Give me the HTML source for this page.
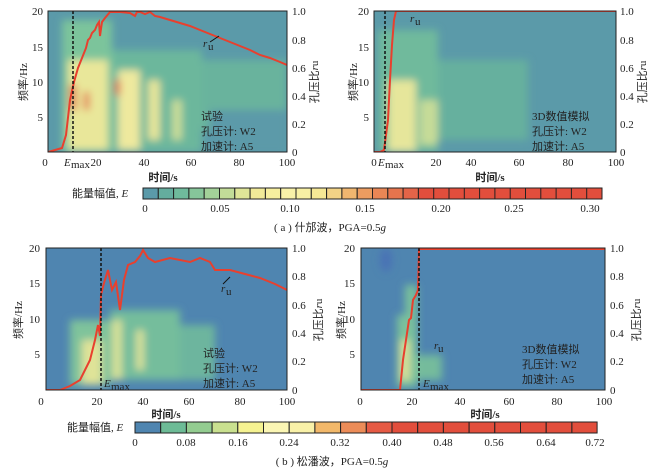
<!DOCTYPE html>
<html><head><meta charset="utf-8"><style>
body{margin:0;background:#fff}
svg{display:block}
text{font-family:"Liberation Serif","Noto Serif CJK SC",serif;font-size:11px;fill:#222}
.c{font-family:"Liberation Serif","Noto Sans CJK SC",sans-serif}
</style></head><body>
<svg width="664" height="473" viewBox="0 0 664 473">
<defs>
<filter id="b" x="-20%" y="-20%" width="140%" height="140%"><feGaussianBlur stdDeviation="4"/></filter>
<clipPath id="c1"><rect x="48" y="11" width="239" height="141"/></clipPath>
<clipPath id="c2"><rect x="374" y="11" width="242" height="141"/></clipPath>
<clipPath id="c3"><rect x="46" y="248" width="241" height="142"/></clipPath>
<clipPath id="c4"><rect x="361" y="248" width="244" height="142"/></clipPath>
</defs>

<!-- Panel 1 -->
<rect x="48" y="11" width="239" height="141" fill="#5b9aa9"/>
<g clip-path="url(#c1)"><g filter="url(#b)">
<rect x="62" y="20" width="50" height="132" fill="#7cc49b"/>
<rect x="112" y="50" width="90" height="102" fill="#6cb79c"/>
<rect x="202" y="60" width="85" height="70" fill="#69b39d"/>
<rect x="68" y="60" width="40" height="90" fill="#e9e79a"/>
<rect x="118" y="70" width="22" height="80" fill="#eee99e"/>
<rect x="148" y="80" width="12" height="60" fill="#e5e59a"/>
<rect x="172" y="100" width="10" height="40" fill="#c9dd98"/>
<rect x="70" y="85" width="6" height="25" fill="#e3573f"/>
<rect x="84" y="92" width="5" height="18" fill="#e3573f"/>
<rect x="115" y="80" width="5" height="15" fill="#e3573f"/>
<rect x="210" y="110" width="77" height="42" fill="#5b9aa9"/>
</g></g>
<polyline clip-path="url(#c1)" fill="none" stroke="#e8402e" stroke-width="2" points="48,152 55,150 62,148 66,135 70,100 74,82 78,68 82,58 86,48 88,40 90,38 92,33 95,30 97,25 99,22 100,36 102,22 105,18 110,12 120,12 130,13 135,16 137,12 140,12 145,14 150,12 155,16 160,17 170,20 180,23 190,26 200,30 210,34 220,38 230,42 240,46 250,50 260,55 270,58 280,62 287,65"/>
<line x1="73" y1="11" x2="73" y2="152" stroke="#111" stroke-width="1.5" stroke-dasharray="3,2"/>
<rect x="48" y="11" width="239" height="141" fill="none" stroke="#222"/>
<text x="203" y="47" font-style="italic">r</text><text x="208" y="50" font-size="8">u</text>
<line x1="210" y1="42" x2="219" y2="36" stroke="#111"/>
<text x="201" y="120" class="c">试验</text>
<text x="201" y="135" class="c">孔压计: W2</text>
<text x="201" y="150" class="c">加速计: A5</text>

<!-- Panel 2 -->
<rect x="374" y="11" width="242" height="141" fill="#5b9aa9"/>
<g clip-path="url(#c2)"><g filter="url(#b)">
<rect x="378" y="30" width="60" height="122" fill="#6fba9c"/>
<rect x="438" y="60" width="90" height="80" fill="#66b09e"/>
<rect x="388" y="80" width="28" height="72" fill="#e6e69b"/>
<rect x="420" y="100" width="18" height="45" fill="#c6dc98"/>
</g></g>
<polyline clip-path="url(#c2)" fill="none" stroke="#e8402e" stroke-width="2" points="374,152 380,152 384,150 388,120 390,80 392,45 394,20 396,11 616,11"/>
<line x1="385" y1="11" x2="385" y2="152" stroke="#111" stroke-width="1.5" stroke-dasharray="3,2"/>
<rect x="374" y="11" width="242" height="141" fill="none" stroke="#222"/>
<text x="410" y="22" font-style="italic">r</text><text x="415" y="25" font-size="8">u</text>
<text x="532" y="120" class="c">3D数值模拟</text>
<text x="532" y="135" class="c">孔压计: W2</text>
<text x="532" y="150" class="c">加速计: A5</text>

<g text-anchor="end">
<text x="43" y="15">20</text><text x="43" y="51">15</text><text x="43" y="86">10</text><text x="43" y="121">5</text>
<text x="369" y="15">20</text><text x="369" y="51">15</text><text x="369" y="86">10</text><text x="369" y="121">5</text>
</g>
<g>
<text x="292" y="15">1.0</text><text x="292" y="44">0.8</text><text x="292" y="72">0.6</text><text x="292" y="100">0.4</text><text x="292" y="128">0.2</text><text x="292" y="156">0</text>
<text x="620" y="15">1.0</text><text x="620" y="44">0.8</text><text x="620" y="72">0.6</text><text x="620" y="100">0.4</text><text x="620" y="128">0.2</text><text x="620" y="156">0</text>
</g>
<g text-anchor="middle">
<text x="45" y="166">0</text><text x="96" y="166">20</text><text x="144" y="166">40</text><text x="191" y="166">60</text><text x="239" y="166">80</text><text x="287" y="166">100</text>
<text x="374" y="166">0</text><text x="436" y="166">20</text><text x="471" y="166">40</text><text x="519" y="166">60</text><text x="568" y="166">80</text><text x="616" y="166">100</text>
<text x="163" y="181" class="c" font-weight="bold">时间/s</text>
<text x="490" y="181" class="c" font-weight="bold">时间/s</text>
</g>
<text x="64" y="166" font-style="italic">E</text><text x="71" y="168" font-size="8">max</text>
<text x="378" y="166" font-style="italic">E</text><text x="385" y="168" font-size="8">max</text>
<text transform="translate(27,82) rotate(-90)" text-anchor="middle" class="c">频率/Hz</text>
<text transform="translate(357,82) rotate(-90)" text-anchor="middle" class="c">频率/Hz</text>
<text transform="translate(318,82) rotate(-90)" text-anchor="middle" class="c">孔压比<tspan font-style="italic">r</tspan>u</text>
<text transform="translate(646,82) rotate(-90)" text-anchor="middle" class="c">孔压比<tspan font-style="italic">r</tspan>u</text>

<!-- colorbar a -->
<text x="72" y="197" class="c">能量幅值, <tspan font-style="italic">E</tspan></text>
<g stroke="#222" stroke-width="1">
<rect x="143" y="188" width="15.3" height="11" fill="#5b9aa9"/><rect x="158.3" y="188" width="15.3" height="11" fill="#64ad9e"/><rect x="173.6" y="188" width="15.3" height="11" fill="#6fba9c"/><rect x="188.9" y="188" width="15.3" height="11" fill="#86c59a"/><rect x="204.2" y="188" width="15.3" height="11" fill="#a3d199"/><rect x="219.5" y="188" width="15.3" height="11" fill="#c2dc98"/><rect x="234.8" y="188" width="15.3" height="11" fill="#dfe598"/><rect x="250.1" y="188" width="15.3" height="11" fill="#f1ea98"/><rect x="265.4" y="188" width="15.3" height="11" fill="#f7ef9f"/><rect x="280.7" y="188" width="15.3" height="11" fill="#f8f1a8"/><rect x="296" y="188" width="15.3" height="11" fill="#f8f0a4"/><rect x="311.3" y="188" width="15.3" height="11" fill="#f6e895"/><rect x="326.6" y="188" width="15.3" height="11" fill="#f3d386"/><rect x="341.9" y="188" width="15.3" height="11" fill="#f0b66f"/><rect x="357.2" y="188" width="15.3" height="11" fill="#ec9c60"/><rect x="372.5" y="188" width="15.3" height="11" fill="#e98655"/><rect x="387.8" y="188" width="15.3" height="11" fill="#e6744d"/><rect x="403.1" y="188" width="15.3" height="11" fill="#e46448"/>
</g>
<rect x="418.4" y="188" width="183.6" height="11" fill="#e24e3c" stroke="#222"/>
<g stroke="#222"><line x1="433.7" y1="188" x2="433.7" y2="199"/><line x1="449" y1="188" x2="449" y2="199"/><line x1="464.3" y1="188" x2="464.3" y2="199"/><line x1="479.6" y1="188" x2="479.6" y2="199"/><line x1="494.9" y1="188" x2="494.9" y2="199"/><line x1="510.2" y1="188" x2="510.2" y2="199"/><line x1="525.5" y1="188" x2="525.5" y2="199"/><line x1="540.8" y1="188" x2="540.8" y2="199"/><line x1="556.1" y1="188" x2="556.1" y2="199"/><line x1="571.4" y1="188" x2="571.4" y2="199"/><line x1="586.7" y1="188" x2="586.7" y2="199"/></g>
<g text-anchor="middle">
<text x="145" y="212">0</text><text x="220" y="212">0.05</text><text x="290" y="212">0.10</text><text x="365" y="212">0.15</text><text x="441" y="212">0.20</text><text x="514" y="212">0.25</text><text x="590" y="212">0.30</text>
<text x="330" y="231" class="c">( a ) 什邡波，PGA=0.5<tspan font-style="italic">g</tspan></text>
</g>

<!-- Panel 3 -->
<rect x="46" y="248" width="241" height="142" fill="#4f85b0"/>
<g clip-path="url(#c3)"><g filter="url(#b)">
<rect x="70" y="320" width="40" height="65" fill="#7fc39b"/>
<rect x="110" y="310" width="70" height="70" fill="#75bd9c"/>
<rect x="180" y="325" width="35" height="55" fill="#6db59e"/>
<rect x="82" y="340" width="20" height="45" fill="#dfe398"/>
<rect x="112" y="320" width="10" height="60" fill="#d6e198"/>
<rect x="136" y="330" width="8" height="40" fill="#d9e299"/>
</g></g>
<polyline clip-path="url(#c3)" fill="none" stroke="#e8402e" stroke-width="2" points="46,390 60,390 70,386 80,380 90,360 95,340 98,325 100,336 101,295 104,283 108,270 112,290 116,282 120,310 124,280 128,265 135,262 140,256 143,250 148,258 155,262 170,258 190,262 200,258 210,262 215,270 230,270 245,274 260,278 275,284 287,290"/>
<line x1="101" y1="248" x2="101" y2="390" stroke="#111" stroke-width="1.5" stroke-dasharray="3,2"/>
<rect x="46" y="248" width="241" height="142" fill="none" stroke="#222"/>
<text x="221" y="292" font-style="italic">r</text><text x="226" y="295" font-size="8">u</text>
<line x1="223" y1="284" x2="230" y2="277" stroke="#111"/>
<text x="104" y="387" font-style="italic">E</text><text x="111" y="390" font-size="8">max</text>
<text x="203" y="357" class="c">试验</text>
<text x="203" y="372" class="c">孔压计: W2</text>
<text x="203" y="387" class="c">加速计: A5</text>

<!-- Panel 4 -->
<rect x="361" y="248" width="244" height="142" fill="#4f85b0"/>
<g clip-path="url(#c4)"><g filter="url(#b)">
<ellipse cx="386" cy="260" rx="6" ry="12" fill="#4a72b5"/>
<rect x="397" y="315" width="20" height="72" fill="#7cc29b"/>
<rect x="405" y="285" width="12" height="40" fill="#79c09b"/>
<rect x="400" y="340" width="10" height="40" fill="#d8e198"/>
<rect x="417" y="355" width="25" height="25" fill="#74bb9c"/>
</g></g>
<polyline clip-path="url(#c4)" fill="none" stroke="#e8402e" stroke-width="2" points="361,390 400,390 403,360 406,340 409,320 411,318 413,300 416,295 418,290 419,249 605,249"/>
<line x1="419" y1="248" x2="419" y2="390" stroke="#111" stroke-width="1.5" stroke-dasharray="3,2"/>
<rect x="361" y="248" width="244" height="142" fill="none" stroke="#222"/>
<text x="434" y="349" font-style="italic">r</text><text x="438" y="352" font-size="8">u</text>
<text x="423" y="387" font-style="italic">E</text><text x="430" y="390" font-size="8">max</text>
<text x="522" y="353" class="c">3D数值模拟</text>
<text x="522" y="368" class="c">孔压计: W2</text>
<text x="522" y="383" class="c">加速计: A5</text>

<g text-anchor="end">
<text x="40" y="252">20</text><text x="40" y="287">15</text><text x="40" y="323">10</text><text x="40" y="358">5</text>
<text x="355" y="252">20</text><text x="355" y="287">15</text><text x="355" y="323">10</text><text x="355" y="358">5</text>
</g>
<g>
<text x="292" y="252">1.0</text><text x="292" y="280">0.8</text><text x="292" y="309">0.6</text><text x="292" y="337">0.4</text><text x="292" y="365">0.2</text><text x="292" y="394">0</text>
<text x="610" y="252">1.0</text><text x="610" y="280">0.8</text><text x="610" y="309">0.6</text><text x="610" y="337">0.4</text><text x="610" y="365">0.2</text><text x="610" y="394">0</text>
</g>
<g text-anchor="middle">
<text x="41" y="405">0</text><text x="97" y="405">20</text><text x="143" y="405">40</text><text x="189" y="405">60</text><text x="240" y="405">80</text><text x="287" y="405">100</text>
<text x="360" y="405">0</text><text x="412" y="405">20</text><text x="460" y="405">40</text><text x="509" y="405">60</text><text x="557" y="405">80</text><text x="604" y="405">100</text>
<text x="166" y="418" class="c" font-weight="bold">时间/s</text>
<text x="485" y="418" class="c" font-weight="bold">时间/s</text>
</g>
<text transform="translate(22,320) rotate(-90)" text-anchor="middle" class="c">频率/Hz</text>
<text transform="translate(345,320) rotate(-90)" text-anchor="middle" class="c">频率/Hz</text>
<text transform="translate(322,320) rotate(-90)" text-anchor="middle" class="c">孔压比<tspan font-style="italic">r</tspan>u</text>
<text transform="translate(640,320) rotate(-90)" text-anchor="middle" class="c">孔压比<tspan font-style="italic">r</tspan>u</text>

<!-- colorbar b -->
<text x="67" y="431" class="c">能量幅值, <tspan font-style="italic">E</tspan></text>
<g stroke="#222">
<rect x="135" y="422" width="25.7" height="11" fill="#4f85b0"/><rect x="160.7" y="422" width="25.7" height="11" fill="#6dbb96"/><rect x="186.4" y="422" width="25.7" height="11" fill="#93cc90"/><rect x="212.1" y="422" width="25.7" height="11" fill="#c9e08f"/><rect x="237.8" y="422" width="25.7" height="11" fill="#f5f291"/><rect x="263.5" y="422" width="25.7" height="11" fill="#fbf6b4"/><rect x="289.2" y="422" width="25.7" height="11" fill="#f9f1a8"/><rect x="314.9" y="422" width="25.7" height="11" fill="#f2b86a"/><rect x="340.6" y="422" width="25.7" height="11" fill="#ec8c58"/><rect x="366.3" y="422" width="25.7" height="11" fill="#e65a44"/><rect x="392" y="422" width="25.7" height="11" fill="#e24e3c"/><rect x="417.7" y="422" width="25.7" height="11" fill="#e24e3c"/><rect x="443.4" y="422" width="25.7" height="11" fill="#e24e3c"/><rect x="469.1" y="422" width="25.7" height="11" fill="#e24e3c"/><rect x="494.8" y="422" width="25.7" height="11" fill="#e24e3c"/><rect x="520.5" y="422" width="25.7" height="11" fill="#e24e3c"/><rect x="546.2" y="422" width="25.7" height="11" fill="#e24e3c"/><rect x="571.9" y="422" width="25.2" height="11" fill="#e24e3c"/>
</g>
<g text-anchor="middle">
<text x="135" y="446">0</text><text x="186" y="446">0.08</text><text x="238" y="446">0.16</text><text x="289" y="446">0.24</text><text x="340" y="446">0.32</text><text x="392" y="446">0.40</text><text x="443" y="446">0.48</text><text x="494" y="446">0.56</text><text x="546" y="446">0.64</text><text x="595" y="446">0.72</text>
<text x="332" y="465" class="c" font-size="10">( b ) 松潘波，PGA=0.5<tspan font-style="italic">g</tspan></text>
</g>
</svg>
</body></html>
